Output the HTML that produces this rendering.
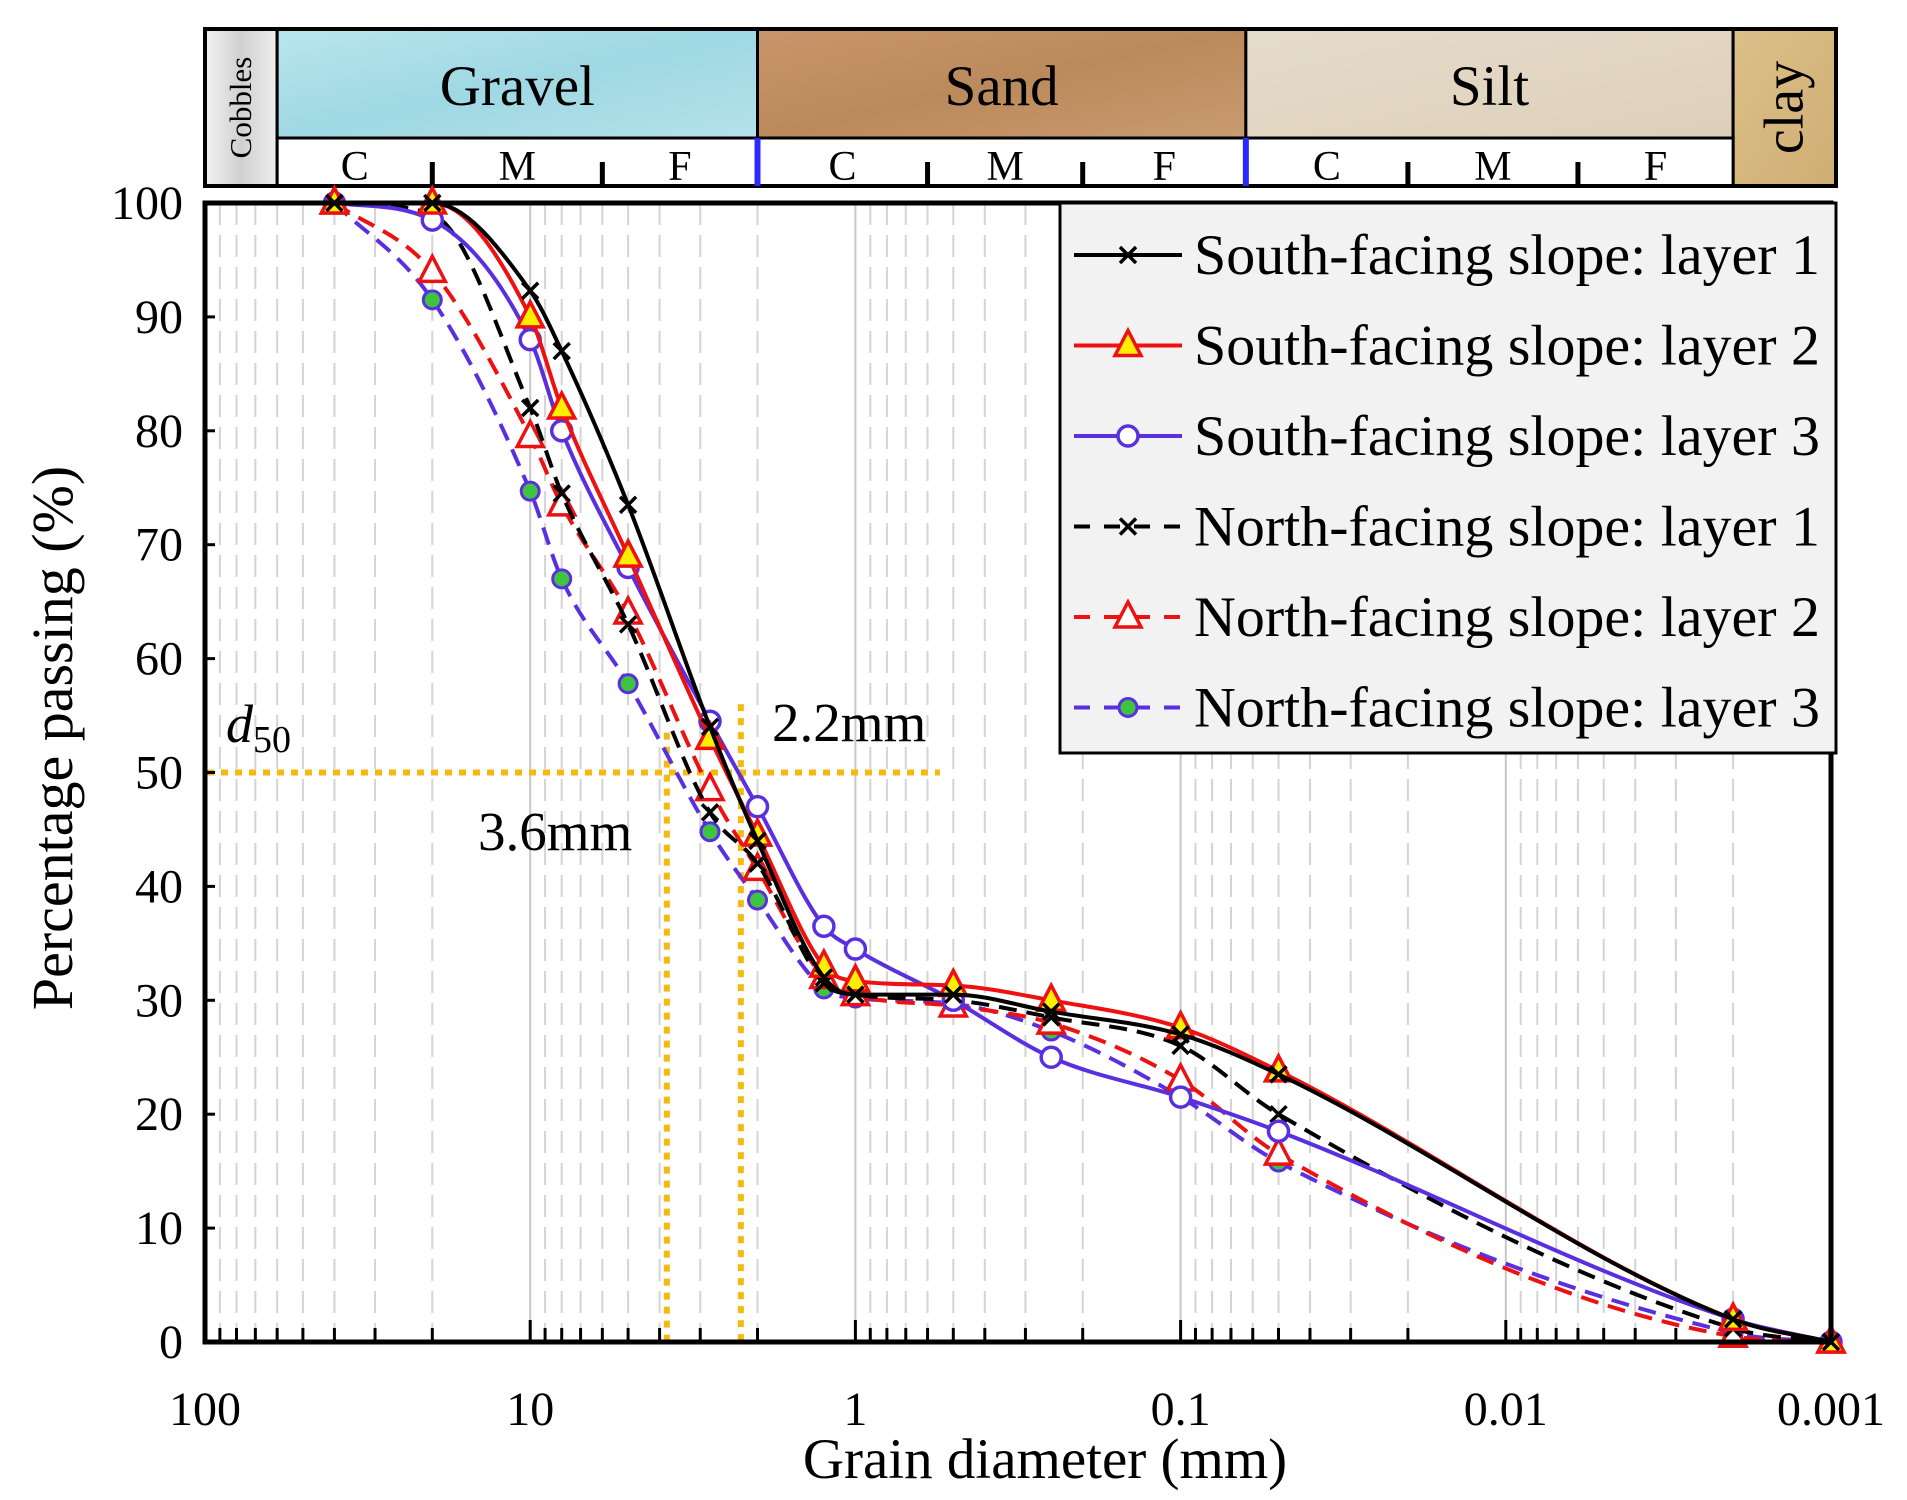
<!DOCTYPE html>
<html><head><meta charset="utf-8"><style>
html,body{margin:0;padding:0;background:#fff;}
svg{display:block;font-family:"Liberation Serif",serif;}
</style></head><body>
<svg id="chart" width="1907" height="1500" viewBox="0 0 1907 1500" xmlns="http://www.w3.org/2000/svg">
<defs>
<linearGradient id="gGravel" x1="0" y1="0" x2="1" y2="1"><stop offset="0" stop-color="#b9e6ee"/><stop offset="0.5" stop-color="#9fd8e3"/><stop offset="1" stop-color="#b4e2ea"/></linearGradient>
<linearGradient id="gSand" x1="0" y1="0" x2="1" y2="1"><stop offset="0" stop-color="#c8966a"/><stop offset="0.5" stop-color="#bb8a5c"/><stop offset="1" stop-color="#c99b70"/></linearGradient>
<linearGradient id="gSilt" x1="0" y1="0" x2="1" y2="1"><stop offset="0" stop-color="#e6dccb"/><stop offset="1" stop-color="#ddd0ba"/></linearGradient>
<linearGradient id="gClay" x1="0" y1="0" x2="1" y2="1"><stop offset="0" stop-color="#dcc089"/><stop offset="1" stop-color="#cfae72"/></linearGradient>
<linearGradient id="gCob" x1="0" y1="0" x2="1" y2="0"><stop offset="0" stop-color="#f2f2f2"/><stop offset="0.5" stop-color="#d0d0d0"/><stop offset="1" stop-color="#eeeeee"/></linearGradient>
</defs>
<g id="header"></g>
<g id="grid"></g>
<g id="guides"></g>
<g id="series"></g>
<g id="axes"></g>
<g id="legend"></g>
</svg>
<script>
const sizes = [40, 20, 10, 8, 5, 2.8, 2, 1.25, 1, 0.5, 0.25, 0.1, 0.05, 0.002, 0.001];
const south1 = [100, 100, 92.3, 87, 73.5, 54, 44, 32, 30.5, 30.5, 29, 27, 23.5, 2, 0];
const south2 = [100, 100, 90, 82, 69, 53, 44.5, 33, 31.7, 31.3, 30, 27.6, 23.8, 2, 0];
const south3 = [100, 98.5, 88, 80, 68, 54.5, 47, 36.5, 34.5, 30, 25, 21.5, 18.5, 2, 0];
const north1 = [100, 99, 82, 74.5, 63, 46.5, 42, 31.5, 30.5, 30, 28.5, 26, 20, 1.2, 0];
const north2 = [100, 94, 79.5, 73.5, 64, 48.5, 41.5, 32, 30.5, 29.5, 28, 23, 16.5, 0.5, 0];
const north3 = [100, 91.5, 74.7, 67, 57.8, 44.8, 38.8, 31, 30.2, 29.7, 27.3, 21.5, 15.8, 0.8, 0];
const seriesNames = ["South-facing slope: layer 1","South-facing slope: layer 2","South-facing slope: layer 3","North-facing slope: layer 1","North-facing slope: layer 2","North-facing slope: layer 3"];
const xTicks = [100, 10, 1, 0.1, 0.01, 0.001];
const xTickLabels = ["100","10","1","0.1","0.01","0.001"];
const yTicks = [0,10,20,30,40,50,60,70,80,90,100];
const d50Sizes = [3.8, 2.25];
const d50Labels = ["3.6mm", "2.2mm"];

const NS="http://www.w3.org/2000/svg";
const L=205,R=1831,T=203,B=1342;
const X=d=>L+(2-Math.log10(d))*(R-L)/5;
const Y=p=>B-p*(B-T)/100;
function el(tag,attrs,parent,text){const e=document.createElementNS(NS,tag);for(const k in attrs)e.setAttribute(k,attrs[k]);if(text!==undefined)e.textContent=text;parent.appendChild(e);return e;}

// header
const hdr=document.getElementById('header');
const bands=[["cobbles",100,60,"url(#gCob)"],["gravel",60,2,"url(#gGravel)"],["sand",2,0.063,"url(#gSand)"],["silt",0.063,0.002,"url(#gSilt)"],["clay",0.002,0.001,"url(#gClay)"]];
const hT=29,hM=138,hB=186;
bands.forEach(b=>{
  const x1=X(b[1]),x2=b[0]==="clay"?1836:X(b[2]);
  const full=(b[0]==="cobbles"||b[0]==="clay");
  const r=el('rect',{x:x1,y:hT,width:x2-x1,height:(full?hB:hM)-hT,fill:b[3],stroke:'#000','stroke-width':3},hdr);
  
  
});
el('rect',{x:X(60),y:hM,width:X(0.002)-X(60),height:hB-hM,fill:'#fff',stroke:'#000','stroke-width':3},hdr);
el('rect',{x:205,y:hT,width:1631,height:hB-hT,fill:'none',stroke:'#000','stroke-width':4},hdr);
const lbl=[["Gravel",(X(60)+X(2))/2],["Sand",(X(2)+X(0.063))/2],["Silt",(X(0.063)+X(0.002))/2]];
lbl.forEach(l=>{const t=el('text',{x:l[1],y:105,'font-size':57,'text-anchor':'middle'},hdr,l[0]);
  
  });
let t1=el('text',{x:0,y:0,'font-size':31,'text-anchor':'middle',transform:`translate(${(205+X(60))/2+10},${(hT+hB)/2}) rotate(-90)`},hdr,"Cobbles");


let t2=el('text',{x:0,y:0,'font-size':56,'text-anchor':'middle',transform:`translate(${(X(0.002)+1836)/2+18},${(hT+hB)/2}) rotate(-90)`},hdr,"clay");


const subs=[[60,20,6,2],[2,0.6,0.2,0.063],[0.063,0.02,0.006,0.002]];
subs.forEach((s,i)=>{
  const xs=s.map(X);
  ["C","M","F"].forEach((c,j)=>{const t=el('text',{x:(xs[j]+xs[j+1])/2,y:180,'font-size':42,'text-anchor':'middle'},hdr,c);
    
    });
  [xs[1],xs[2]].forEach(x=>el('line',{x1:x,x2:x,y1:162,y2:hB,stroke:'#000','stroke-width':5},hdr));
  if(i<2) el('line',{x1:xs[3],x2:xs[3],y1:hM,y2:hB,stroke:'#2a2aff','stroke-width':6},hdr);
});

// grid
const grid=document.getElementById('grid');
for(let e=-3;e<2;e++){
  for(let m=1;m<10;m++){
    const d=m*Math.pow(10,e);const x=X(d);
    if(m===1){ if(e>-3) el('line',{x1:x,x2:x,y1:T,y2:B,stroke:'#c8c8c8','stroke-width':2},grid); }
    else el('line',{x1:x,x2:x,y1:T,y2:B,stroke:'#d4d4d4','stroke-width':2,'stroke-dasharray':'22 10'},grid);
    el('line',{x1:x,x2:x,y1:B-(m===1?22:14),y2:B,stroke:'#000','stroke-width':3},grid);
  }
}

// guides
const gd=document.getElementById('guides');
el('line',{x1:207,x2:940,y1:Y(50),y2:Y(50),stroke:'#f5b911','stroke-width':6,'stroke-dasharray':'7 7'},gd);
el('line',{x1:X(d50Sizes[0]),x2:X(d50Sizes[0]),y1:Y(53.5),y2:B,stroke:'#f5b911','stroke-width':6,'stroke-dasharray':'7 7'},gd);
el('line',{x1:X(d50Sizes[1]),x2:X(d50Sizes[1]),y1:Y(56),y2:B,stroke:'#f5b911','stroke-width':6,'stroke-dasharray':'7 7'},gd);
let g1=el('text',{x:772,y:741,'font-size':55},gd,d50Labels[1]);


let g2=el('text',{x:478,y:850,'font-size':55},gd,d50Labels[0]);


let g3=el('text',{x:226,y:742,'font-size':54,'font-style':'italic'},gd,"d");


el('tspan',{'font-size':38,'font-style':'normal',dy:10},g3,"50");

// series
const sg=document.getElementById('series');
const styles=[
 {c:'#000',dash:null,m:'x'},{c:'#ee1111',dash:null,m:'triY'},{c:'#5a2fe0',dash:null,m:'circ'},
 {c:'#000',dash:'18 10',m:'x'},{c:'#ee1111',dash:'18 10',m:'tri'},{c:'#5a2fe0',dash:'18 10',m:'dot'}];
const data=[south1,south2,south3,north1,north2,north3];
function smooth(pts){
  const n=pts.length,dx=[],s=[],m=[];
  for(let i=0;i<n-1;i++){dx[i]=pts[i+1][0]-pts[i][0];s[i]=(pts[i+1][1]-pts[i][1])/dx[i];}
  m[0]=s[0];m[n-1]=s[n-2];
  for(let i=1;i<n-1;i++){ if(s[i-1]*s[i]<=0) m[i]=0; else m[i]=(s[i-1]+s[i])/2; }
  for(let i=0;i<n-1;i++){ if(s[i]===0){m[i]=0;m[i+1]=0;continue;}
    const a=m[i]/s[i],b=m[i+1]/s[i],h=a*a+b*b; if(h>9){const t=3/Math.sqrt(h);m[i]=t*a*s[i];m[i+1]=t*b*s[i];}}
  let d=`M${pts[0][0]},${pts[0][1]}`;
  for(let i=0;i<n-1;i++){const h=dx[i]/3;
    d+=` C${pts[i][0]+h},${pts[i][1]+m[i]*h} ${pts[i+1][0]-h},${pts[i+1][1]-m[i+1]*h} ${pts[i+1][0]},${pts[i+1][1]}`;}
  return d;}
function marker(g,type,x,y,c){
  if(type==='x'){el('path',{d:`M${x-8},${y-8}L${x+8},${y+8}M${x-8},${y+8}L${x+8},${y-8}`,stroke:c,'stroke-width':3.5},g);}
  else if(type==='triY'||type==='tri'){el('path',{d:`M${x},${y-15}L${x+13},${y+10}L${x-13},${y+10}Z`,fill:type==='triY'?'#ffee00':'#fff',stroke:'#ee1111','stroke-width':3.5},g);}
  else if(type==='circ'){el('circle',{cx:x,cy:y,r:10,fill:'#fff',stroke:'#5a2fe0','stroke-width':3.5},g);}
  else if(type==='dot'){el('circle',{cx:x,cy:y,r:9,fill:'#3ec43e',stroke:'#5a2fe0','stroke-width':3},g);}
}
const order=[5,4,3,2,1,0];
order.forEach(i=>{
  const s=styles[i];const g=el('g',{},sg);
  
  
  const pts=sizes.map((d,j)=>[X(d),Y(data[i][j])]);
  const a={d:smooth(pts),fill:'none',stroke:s.c,'stroke-width':4};
  if(s.dash)a['stroke-dasharray']=s.dash;
  el('path',a,g);
  pts.forEach(p=>marker(g,s.m,p[0],p[1],s.c));
});

// axes
const ax=document.getElementById('axes');
el('rect',{x:L,y:T,width:R-L,height:B-T,fill:'none',stroke:'#000','stroke-width':5},ax);
yTicks.forEach(v=>{const t=el('text',{x:183,y:Y(v)+16,'font-size':48,'text-anchor':'end'},ax,String(v));
  
  
  el('line',{x1:L,x2:L+10,y1:Y(v),y2:Y(v),stroke:'#000','stroke-width':3},ax);});
xTicks.forEach((v,i)=>{const t=el('text',{x:X(v),y:1425,'font-size':48,'text-anchor':'middle'},ax,xTickLabels[i]);
  
  });
let xt=el('text',{x:1045,y:1478,'font-size':57,'text-anchor':'middle'},ax,"Grain diameter (mm)");


let yt=el('text',{x:0,y:0,'font-size':58,'text-anchor':'middle',transform:'translate(72,738) rotate(-90)'},ax,"Percentage passing (%)");



// legend
const lg=document.getElementById('legend');
el('rect',{x:1060,y:203,width:776,height:550,fill:'#f2f2f2',stroke:'#000','stroke-width':3},lg);
seriesNames.forEach((n,i)=>{
  const s=styles[i];const y=255+i*90.5;
  const g=el('g',{},lg);
  
  
  const a={x1:1074,x2:1182,y1:y,y2:y,stroke:s.c,'stroke-width':4};
  if(s.dash)a['stroke-dasharray']='16 14';
  el('line',a,g);
  marker(g,s.m,1128,y,s.c);
  el('text',{x:1194,y:y+19,'font-size':57,textLength:626,lengthAdjust:'spacingAndGlyphs'},g,n);
});
</script>
</body></html>
